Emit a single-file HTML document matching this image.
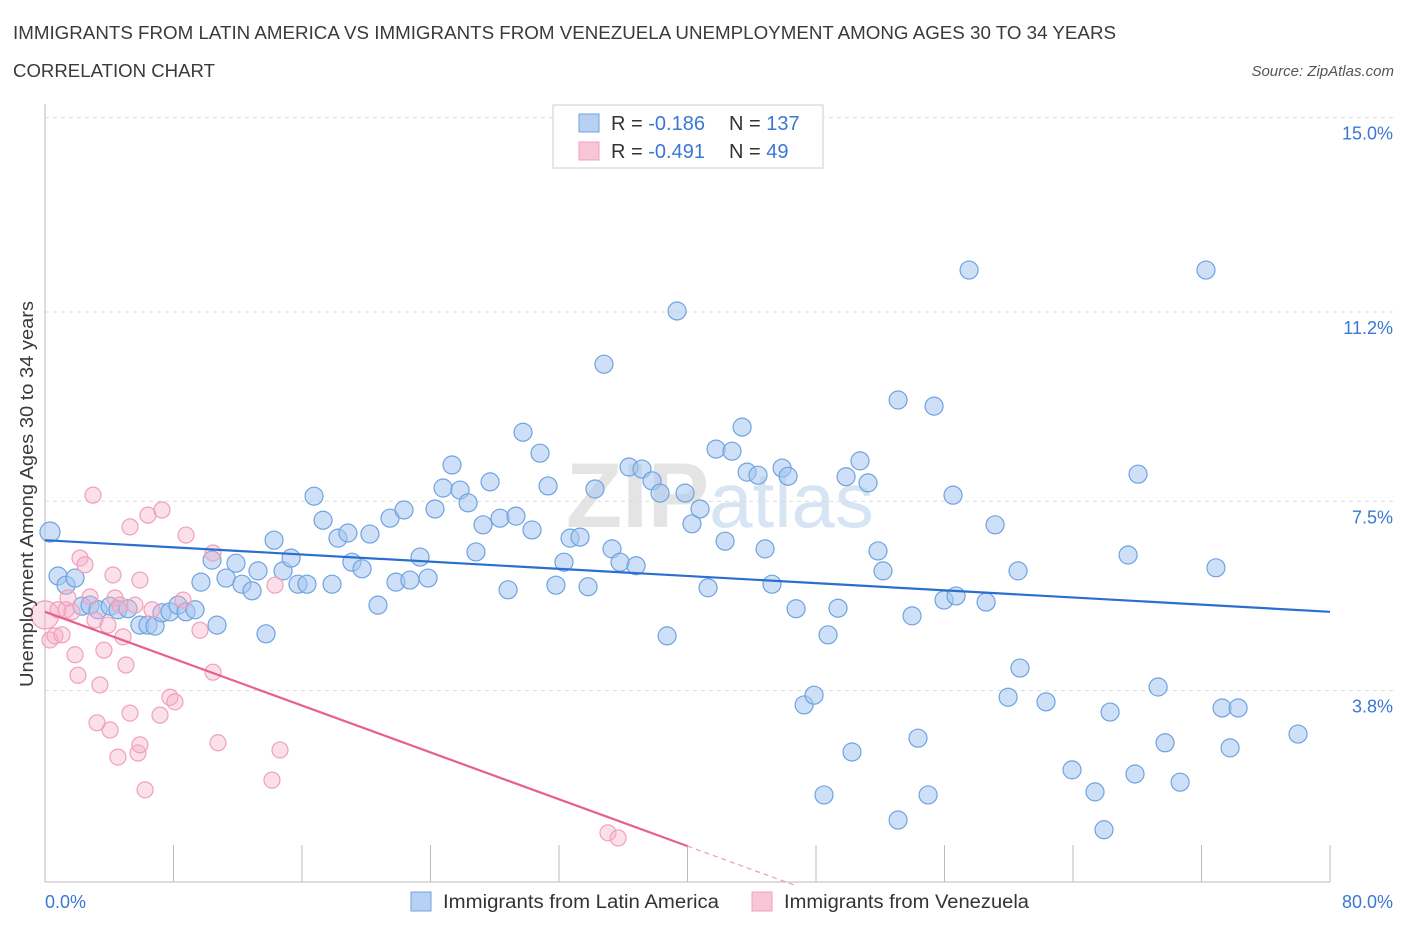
<!DOCTYPE html>
<html><head><meta charset="utf-8">
<style>
body{margin:0;background:#fff;font-family:"Liberation Sans",sans-serif;}
svg text{font-family:"Liberation Sans",sans-serif;}
</style></head>
<body>
<svg id="chart" width="1406" height="930" xmlns="http://www.w3.org/2000/svg">
<text x="13" y="39" font-size="18" fill="#3a3a3a" textLength="1103" lengthAdjust="spacingAndGlyphs">IMMIGRANTS FROM LATIN AMERICA VS IMMIGRANTS FROM VENEZUELA UNEMPLOYMENT AMONG AGES 30 TO 34 YEARS</text>
<text x="13" y="77" font-size="18" fill="#3a3a3a" textLength="202" lengthAdjust="spacingAndGlyphs">CORRELATION CHART</text>
<text x="1394" y="76" font-size="15" fill="#555" text-anchor="end" font-style="italic">Source: ZipAtlas.com</text>
<text x="720" y="527" font-size="92" fill="#e4e4e4" text-anchor="middle" font-family="Liberation Serif" font-weight="bold">ZIP<tspan fill="#d6e4f4" font-family="Liberation Sans" font-weight="normal" font-size="78">atlas</tspan></text>
<g id="grid"></g>
<g id="axes"></g>
<g id="marks"></g>
<text transform="translate(33,494) rotate(-90)" font-size="18" fill="#3a3a3a" text-anchor="middle" textLength="386" lengthAdjust="spacingAndGlyphs">Unemployment Among Ages 30 to 34 years</text>
<text x="45" y="908" font-size="18" fill="#3a78d4">0.0%</text>
<text x="1393" y="908" font-size="18" fill="#3a78d4" text-anchor="end">80.0%</text>
<g>
<rect x="553" y="105" width="270" height="63" fill="#fff" stroke="#ccc"/>
<rect x="579" y="114" width="20" height="18" fill="#b7d1f3" stroke="#6fa3e0"/>
<rect x="579" y="142" width="20" height="18" fill="#f8c6d6" stroke="#f0a0bc"/>
<text x="611" y="130" font-size="20" fill="#333">R = <tspan fill="#3a78d4">-0.186</tspan><tspan x="729">N = </tspan><tspan fill="#3a78d4">137</tspan></text>
<text x="611" y="158" font-size="20" fill="#333">R = <tspan fill="#3a78d4">-0.491</tspan><tspan x="729">N = </tspan><tspan fill="#3a78d4"> 49</tspan></text>
</g>
<g>
<rect x="411" y="892" width="20" height="19" fill="#b7d1f3" stroke="#6fa3e0"/>
<text x="443" y="908" font-size="19" fill="#333" textLength="276" lengthAdjust="spacingAndGlyphs">Immigrants from Latin America</text>
<rect x="752" y="892" width="20" height="19" fill="#f8c6d6" stroke="#f0a0bc"/>
<text x="784" y="908" font-size="19" fill="#333" textLength="245" lengthAdjust="spacingAndGlyphs">Immigrants from Venezuela</text>
</g>
</svg>
<script>
const yTicks=[15.0,11.2,7.5,3.8];
const yTickLabels=["15.0%","11.2%","7.5%","3.8%"];
const xTicks=[0,8,16,24,32,40,48,56,64,72,80];
const blueX=[0.31,0.81,1.31,1.87,2.30,2.80,3.30,4.05,4.54,5.17,5.91,6.41,6.85,7.28,7.78,8.28,8.78,9.34,9.71,10.40,10.71,11.27,11.89,12.26,12.89,13.26,13.76,14.26,14.82,15.32,15.75,16.31,16.75,17.31,17.87,18.24,18.86,19.11,19.74,20.23,20.73,21.48,21.85,22.35,22.72,23.35,23.85,24.28,24.78,25.34,25.84,26.34,26.83,27.27,27.71,28.33,28.83,29.32,29.76,30.32,30.82,31.32,31.81,32.31,32.69,33.31,33.81,34.24,34.80,35.30,35.80,36.36,36.80,37.17,37.79,38.29,38.73,39.35,39.85,40.28,40.78,41.28,41.78,42.34,42.77,43.40,43.71,44.39,44.83,45.26,45.89,46.26,46.76,47.26,47.88,48.50,48.75,49.37,49.87,50.24,50.74,51.24,51.86,52.17,53.11,53.11,53.98,54.35,54.98,55.35,55.97,56.53,56.72,57.53,58.59,59.15,59.96,60.58,60.70,62.32,63.94,65.37,65.93,66.31,67.43,67.86,68.05,69.30,69.73,70.67,72.28,72.90,73.28,73.78,74.28,78.01];
const blueY=[6.90,6.04,5.86,6.00,5.45,5.47,5.38,5.45,5.38,5.40,5.08,5.08,5.06,5.32,5.34,5.47,5.34,5.38,5.92,6.35,5.08,6.00,6.29,5.88,5.75,6.14,4.91,6.74,6.14,6.39,5.88,5.88,7.60,7.13,5.88,6.78,6.88,6.31,6.18,6.86,5.47,7.17,5.92,7.33,5.96,6.41,6.00,7.35,7.76,8.21,7.72,7.47,6.51,7.04,7.88,7.17,5.77,7.21,8.85,6.94,8.44,7.80,5.86,6.31,6.78,6.80,5.83,7.74,10.18,6.57,6.31,8.17,6.24,8.13,7.90,7.66,4.87,11.22,7.66,7.06,7.35,5.81,8.52,6.72,8.48,8.95,8.07,8.01,6.57,5.88,8.15,7.99,5.40,3.52,3.71,1.76,4.89,5.41,7.98,2.60,8.29,7.86,6.53,6.14,9.48,1.27,5.26,2.87,1.76,9.36,5.57,7.62,5.65,12.02,5.53,7.04,3.67,6.14,4.24,3.58,2.25,1.82,1.08,3.38,6.45,2.17,8.03,3.87,2.78,2.01,12.02,6.20,3.46,2.68,3.46,2.95];
const pinkX=[0,0.31,0.62,0.81,1.06,1.31,1.43,1.68,1.87,2.05,2.18,2.49,2.80,2.99,3.11,3.24,3.42,3.67,3.92,4.05,4.23,4.36,4.54,4.67,4.86,5.04,5.29,5.29,5.60,5.79,5.91,5.91,6.23,6.41,6.66,7.16,7.28,7.78,8.09,8.59,8.78,9.65,10.46,10.46,10.77,14.13,14.32,14.63,35.05,35.68];
const pinkY=[5.28,4.79,4.87,5.38,4.89,5.38,5.61,5.34,4.50,4.10,6.39,6.26,5.63,7.62,5.18,3.17,3.91,4.59,5.08,3.03,6.06,5.61,2.50,5.47,4.85,4.30,7.00,3.36,5.47,2.58,5.96,2.74,1.86,7.23,5.38,3.32,7.33,3.67,3.58,5.57,6.84,4.98,6.49,4.16,2.78,2.05,5.86,2.64,1.02,0.92];
const blueTrend=[6.74,5.34];
const pinkTrend=[5.34,0.76];

const NS="http://www.w3.org/2000/svg";
const X0=45,X1=1330,Y0=885,YS=51.16;
function sx(v){return X0+(v/80)*(X1-X0);}
function sy(v){return Y0-v*YS;}
function mk(tag,attrs,parent){const e=document.createElementNS(NS,tag);for(const k in attrs)e.setAttribute(k,attrs[k]);parent.appendChild(e);return e;}
const grid=document.getElementById('grid'),axes=document.getElementById('axes'),marks=document.getElementById('marks');
yTicks.forEach((t,i)=>{
  const l=mk('line',{x1:X0,x2:1395,y1:sy(t),y2:sy(t),stroke:'#dcdcdc','stroke-dasharray':'4,4'},grid);
  
  
  const tx=mk('text',{x:1393,y:sy(t)+22,'font-size':18,fill:'#3a78d4','text-anchor':'end'},axes);
  tx.textContent=yTickLabels[i];
  
  
});
const ya=mk('line',{x1:X0,x2:X0,y1:104,y2:882,stroke:'#bbb'},axes);


const xa=mk('line',{x1:X0,x2:X1,y1:882,y2:882,stroke:'#bbb'},axes);


xTicks.forEach(t=>{
  const l=mk('line',{x1:sx(t),x2:sx(t),y1:845,y2:882,stroke:'#bbb'},axes);
  
  
});
blueX.forEach((x,i)=>{
  const c=mk('circle',{cx:sx(x),cy:sy(blueY[i]),r:i===0?10:9,fill:'rgba(165,198,240,0.55)',stroke:'#6fa3e0','stroke-width':1.2},marks);
  
  
});
pinkX.forEach((x,i)=>{
  const c=mk('circle',{cx:sx(x),cy:sy(pinkY[i]),r:i===0?14:8,fill:'rgba(246,176,200,0.4)',stroke:'#f0a0bc','stroke-width':1.2},marks);
  
  
});
const bl=mk('line',{x1:sx(0),y1:sy(blueTrend[0]),x2:sx(80),y2:sy(blueTrend[1]),stroke:'#2a6fd0','stroke-width':2.2},marks);


const slope=(pinkTrend[1]-pinkTrend[0])/40;
const xz=-pinkTrend[0]/slope;
const pl=mk('line',{x1:sx(0),y1:sy(pinkTrend[0]),x2:sx(40),y2:sy(pinkTrend[1]),stroke:'#e8608e','stroke-width':2.2},marks);


const pd=mk('line',{x1:sx(40),y1:sy(pinkTrend[1]),x2:sx(xz),y2:sy(0),stroke:'#e8a0b8','stroke-width':1.2,'stroke-dasharray':'5,4'},marks);


</script>
</body></html>
